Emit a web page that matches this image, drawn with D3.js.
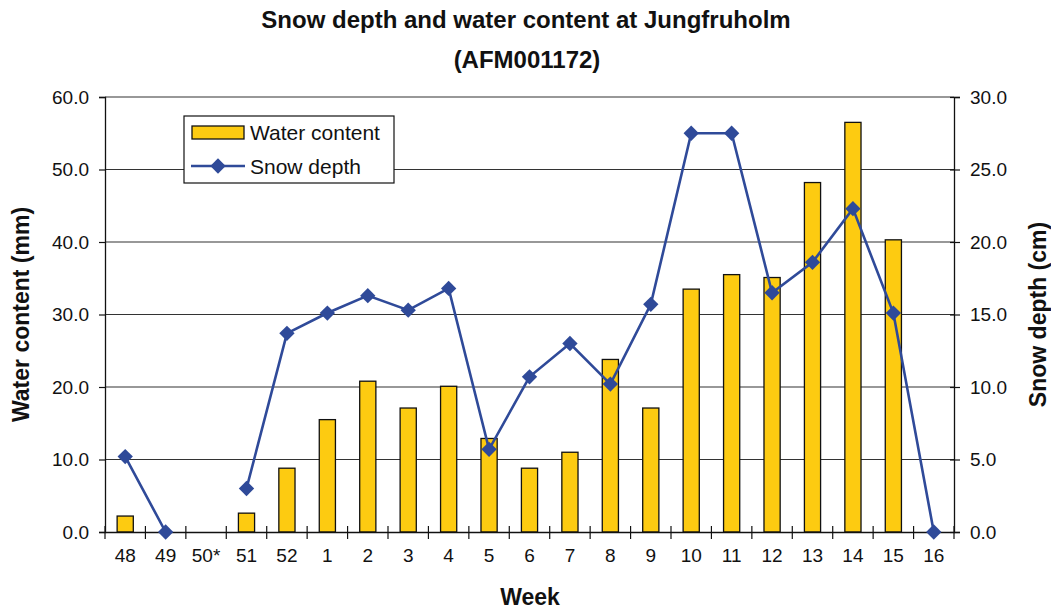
<!DOCTYPE html>
<html>
<head>
<meta charset="utf-8">
<script src="https://cdn.jsdelivr.net/npm/d3@7"></script>
<style>
  body { margin: 0; background: #fff; }
  svg { font-family: Arial, "Liberation Sans", sans-serif; }
</style>
</head>
<body>
<svg id="chart" width="1051" height="610"></svg>
<script>
const weeks = ['48', '49', '50*', '51', '52', '1', '2', '3', '4', '5', '6', '7', '8', '9', '10', '11', '12', '13', '14', '15', '16'];
const waterContent = [2.2, null, null, 2.6, 8.8, 15.5, 20.8, 17.1, 20.1, 12.9, 8.8, 11.0, 23.8, 17.1, 33.5, 35.5, 35.1, 48.2, 56.5, 40.3, null];
const snowDepth = [5.2, 0.0, null, 3.0, 13.7, 15.1, 16.3, 15.3, 16.8, 5.7, 10.7, 13.0, 10.2, 15.7, 27.5, 27.5, 16.5, 18.6, 22.3, 15.1, 0.0];
const leftTicks = [0, 10, 20, 30, 40, 50, 60];
const rightTicks = [0, 5, 10, 15, 20, 25, 30];

const svg = d3.select('#chart');
const plotLeft = 105, plotRight = 954, plotTop = 97, plotBottom = 532;

const x = d3.scaleBand().domain(weeks).range([plotLeft, plotRight]);
const yL = d3.scaleLinear().domain([0, 60]).range([plotBottom, plotTop]);
const yR = d3.scaleLinear().domain([0, 30]).range([plotBottom, plotTop]);

// gridlines
svg.append('g')
  .selectAll('line')
  .data(leftTicks.slice(1))
  .enter()
  .append('line')
  .attr('x1', plotLeft).attr('x2', plotRight)
  .attr('y1', d => yL(d)).attr('y2', d => yL(d))
  .attr('stroke', '#333').attr('stroke-width', 1.2);

// bars
const barW = x.bandwidth() * 0.4;
svg.append('g')
  .selectAll('rect')
  .data(weeks.map((w, i) => ({ w, v: waterContent[i] })).filter(d => d.v !== null))
  .enter()
  .append('rect')
  .attr('x', d => x(d.w) + (x.bandwidth() - barW) / 2)
  .attr('y', d => yL(d.v))
  .attr('width', barW)
  .attr('height', d => plotBottom - yL(d.v))
  .attr('fill', '#FDCB11')
  .attr('stroke', '#111')
  .attr('stroke-width', 1.3);

// axes
const fmt = d3.format('.1f');
const gL = svg.append('g')
  .attr('transform', `translate(${plotLeft},0)`)
  .call(d3.axisLeft(yL).tickValues(leftTicks).tickFormat(fmt).tickSize(6).tickPadding(10));
const gR = svg.append('g')
  .attr('transform', `translate(${plotRight},0)`)
  .call(d3.axisRight(yR).tickValues(rightTicks).tickFormat(fmt).tickSize(6).tickPadding(10));
const gB = svg.append('g')
  .attr('transform', `translate(0,${plotBottom})`)
  .call(d3.axisBottom(x).tickSize(0).tickPadding(17));

[gL, gR, gB].forEach(g => {
  g.select('.domain').attr('stroke', '#111').attr('stroke-width', 1.3);
  g.selectAll('.tick line').attr('stroke', '#111').attr('stroke-width', 1.2);
  g.selectAll('.tick text').attr('font-size', 19).attr('fill', '#111')
    .attr('font-family', 'Arial, "Liberation Sans", sans-serif');
});
gR.selectAll('.tick line').attr('x1', -4);

// category separator ticks crossing the x axis
const bounds = weeks.map(w => x(w)).concat([plotRight]);
svg.append('g')
  .selectAll('line')
  .data(bounds)
  .enter()
  .append('line')
  .attr('x1', d => d).attr('x2', d => d)
  .attr('y1', plotBottom - 6).attr('y2', plotBottom + 7)
  .attr('stroke', '#111').attr('stroke-width', 1.2);

// snow depth line
const line = d3.line()
  .defined(d => d.v !== null)
  .x(d => x(d.w) + x.bandwidth() / 2)
  .y(d => yR(d.v));
const pts = weeks.map((w, i) => ({ w, v: snowDepth[i] }));
svg.append('path')
  .datum(pts)
  .attr('d', line)
  .attr('fill', 'none')
  .attr('stroke', '#2F4A99')
  .attr('stroke-width', 2.6);

const diamond = d3.symbol().type(d3.symbolDiamond2).size(150);
svg.append('g')
  .selectAll('path')
  .data(pts.filter(d => d.v !== null))
  .enter()
  .append('path')
  .attr('d', diamond)
  .attr('transform', d => `translate(${x(d.w) + x.bandwidth() / 2},${yR(d.v)})`)
  .attr('fill', '#2F4A99');

// titles
svg.append('text').attr('x', 526).attr('y', 28).attr('text-anchor', 'middle')
  .attr('font-size', 24).attr('font-weight', 'bold').attr('fill', '#111')
  .text('Snow depth and water content at Jungfruholm');
svg.append('text').attr('x', 527).attr('y', 68).attr('text-anchor', 'middle')
  .attr('font-size', 24).attr('font-weight', 'bold').attr('fill', '#111')
  .text('(AFM001172)');
svg.append('text').attr('x', 530).attr('y', 605).attr('text-anchor', 'middle')
  .attr('font-size', 23).attr('font-weight', 'bold').attr('fill', '#111')
  .text('Week');
svg.append('text')
  .attr('transform', `translate(29,${(plotTop + plotBottom) / 2}) rotate(-90)`)
  .attr('text-anchor', 'middle')
  .attr('font-size', 23).attr('font-weight', 'bold').attr('fill', '#111')
  .text('Water content (mm)');
svg.append('text')
  .attr('transform', `translate(1046,${(plotTop + plotBottom) / 2}) rotate(-90)`)
  .attr('text-anchor', 'middle')
  .attr('font-size', 23).attr('font-weight', 'bold').attr('fill', '#111')
  .text('Snow depth (cm)');

// legend
const lg = svg.append('g').attr('transform', 'translate(184,116)');
lg.append('rect').attr('width', 210).attr('height', 67)
  .attr('fill', '#fff').attr('stroke', '#111').attr('stroke-width', 1.2);
lg.append('rect').attr('x', 8).attr('y', 10).attr('width', 52).attr('height', 13)
  .attr('fill', '#FDCB11').attr('stroke', '#111').attr('stroke-width', 1.3);
lg.append('line').attr('x1', 7).attr('x2', 61).attr('y1', 50).attr('y2', 50)
  .attr('stroke', '#2F4A99').attr('stroke-width', 2.6);
lg.append('path').attr('d', diamond).attr('transform', 'translate(34,50)').attr('fill', '#2F4A99');
lg.append('text').attr('x', 66).attr('y', 24).attr('font-size', 21).attr('fill', '#111').text('Water content');
lg.append('text').attr('x', 66).attr('y', 58).attr('font-size', 21).attr('fill', '#111').text('Snow depth');
</script>
</body>
</html>
